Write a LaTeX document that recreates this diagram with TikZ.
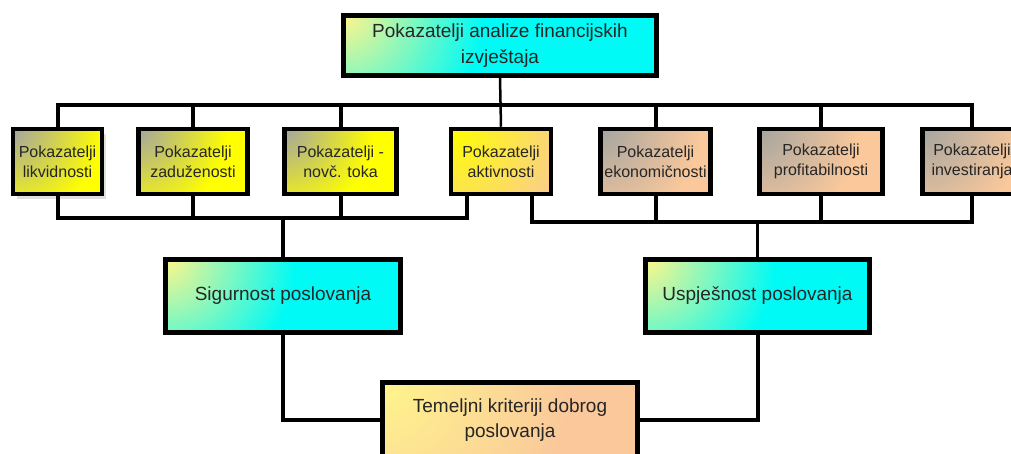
\documentclass[tikz,border=0pt]{standalone}
\usepackage{fontspec}
\setmainfont{Liberation Sans}
\usepackage{xcolor}
\usepackage{tikz}
\usetikzlibrary{shadows}

\definecolor{peach}{RGB}{250,200,155}
\definecolor{shadegray}{RGB}{165,165,160}
\definecolor{paleyellow}{RGB}{255,245,140}
\definecolor{boxcyan}{RGB}{0,250,245}
\colorlet{glowin}{white}
\colorlet{glowout}{white}
\pgfdeclareradialshading[glowin,glowout]{glowshade}{\pgfpointorigin}
  {color(0bp)=(glowin); color(8bp)=(glowout); color(50bp)=(glowout)}

\begin{document}
\begin{tikzpicture}[x=1pt, y=-1pt,
  every node/.style={draw=black, line width=4.5pt, align=center, inner sep=2pt, text=black!85},
  glow/.style n args={3}{fill=#2, path picture={
    \colorlet{glowin}{#1}\colorlet{glowout}{#2}
    \shade[shading=glowshade] (path picture bounding box.north west) circle (#3*6.25);}},
  bus/.style={line width=4pt, line cap=round},
  thinbus/.style={line width=2.5pt},
  rowbox/.style={minimum height=65pt, font=\fontsize{16}{20}\selectfont},
  yellowbox/.style={rowbox, glow={shadegray}{yellow}{45pt}},
  peachbox/.style={rowbox, glow={shadegray}{peach}{50pt}},
  mixbox/.style={rowbox, glow={yellow}{peach}{65pt}},
  cyanbox/.style={minimum height=73pt, font=\fontsize{19}{25}\selectfont, glow={paleyellow}{boxcyan}{65pt}},
]
\useasboundingbox (0,0) rectangle (1011,454);

% Top box
\node[minimum width=313pt, minimum height=60pt, font=\fontsize{19}{26}\selectfont,
  glow={paleyellow}{boxcyan}{70pt}]
  (naslov) at (500,45.5) {Pokazatelji analize financijskih\\izvještaja};

% Row of indicators
\node[yellowbox, minimum width=89pt, drop shadow={shadow xshift=4pt, shadow yshift=-5pt, fill=gray!50}]
  (likv) at (57.5,161.5) {Pokazatelji\\likvidnosti};
\node[yellowbox, minimum width=109pt] (zaduz) at (193,161.5) {Pokazatelji\\zaduženosti};
\node[yellowbox, minimum width=112pt] (novc) at (340.5,161.5) {Pokazatelji -\\novč. toka};
\node[mixbox, minimum width=100pt] (aktiv) at (501,161.5) {Pokazatelji\\aktivnosti};
\node[peachbox, minimum width=110pt] (ekon) at (655.5,161.5) {Pokazatelji\\ekonomičnosti};
\node[peachbox, minimum width=123pt] (profit) at (821,161.5) {Pokazatelji\\profitabilnosti};
\node[peachbox, minimum width=99pt] (invest) at (972,161.5) {Pokazatelji\\investiranja};

% Groups
\node[cyanbox, minimum width=235pt] (sig) at (283,296) {Sigurnost poslovanja};
\node[cyanbox, minimum width=224pt] (usp) at (757.5,296) {Uspješnost poslovanja};

% Bottom box
\node[minimum width=255pt, minimum height=75pt, font=\fontsize{19}{25}\selectfont,
  glow={paleyellow}{peach}{95pt}]
  (temelj) at (510,420) {Temeljni kriteriji dobrog\\poslovanja};

% Bus levels
\coordinate (gore) at (0,105);
\coordinate (dolje1) at (0,218);
\coordinate (dolje2) at (0,222);
\coordinate (aktL) at ([xshift=18pt]aktiv.south west);
\coordinate (aktR) at ([xshift=-21pt]aktiv.south east);

% Top bus
\draw[thinbus] (naslov.south) -- (aktiv.north);
\draw[bus] (likv.north) |- (invest.north |- gore) -- (invest.north);
\foreach \b in {zaduz,novc,ekon,profit}
  \draw[bus] (\b.north) -- (\b.north |- gore);

% Safety bus
\draw[bus] (likv.south) |- (aktL |- dolje1) -- (aktL);
\foreach \b in {zaduz,novc}
  \draw[bus] (\b.south) -- (\b.south |- dolje1);
\draw[bus] (sig.north) -- (sig.north |- dolje1);

% Success bus
\draw[bus] (aktR) |- (invest.south |- dolje2) -- (invest.south);
\foreach \b in {ekon,profit}
  \draw[bus] (\b.south) -- (\b.south |- dolje2);
\draw[thinbus] (usp.north) -- (usp.north |- dolje2);

% To the criteria
\draw[bus] (sig.south) |- (temelj.west);
\draw[bus] (usp.south) |- (temelj.east);
\end{tikzpicture}
\end{document}
